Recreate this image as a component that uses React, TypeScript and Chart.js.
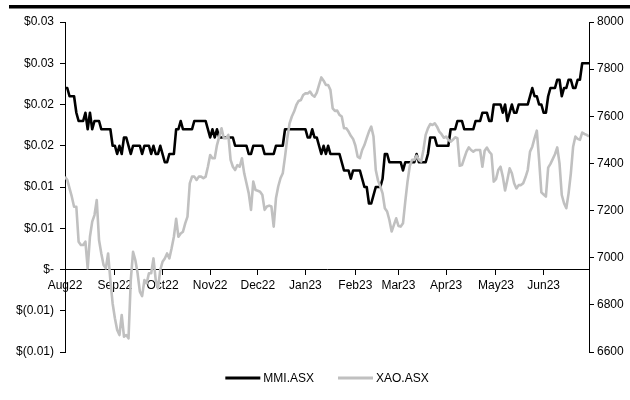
import React, { useEffect, useRef } from "react";
import { Chart, registerables } from "chart.js";

Chart.register(...registerables);

const monthLabels = ["Aug22", "Sep22", "Oct22", "Nov22", "Dec22", "Jan23", "Feb23", "Mar23", "Apr23", "May23", "Jun23"];
const monthStartIndex = [0, 22, 43, 64, 85, 106, 128, 147, 168, 190, 211];

const mmiPrice = [
  0.022, 0.022, 0.021, 0.021, 0.021, 0.019, 0.018, 0.018, 0.018, 0.019,
  0.017, 0.019, 0.017, 0.018, 0.018, 0.018, 0.017, 0.017, 0.017, 0.017,
  0.017, 0.015, 0.015, 0.014, 0.015, 0.014, 0.016, 0.016, 0.015, 0.014,
  0.015, 0.015, 0.015, 0.015, 0.014, 0.015, 0.015, 0.015, 0.014, 0.015,
  0.014, 0.014, 0.015, 0.014, 0.013, 0.013, 0.014, 0.014, 0.014, 0.017,
  0.017, 0.018, 0.017, 0.017, 0.017, 0.017, 0.017, 0.018, 0.018, 0.018,
  0.018, 0.018, 0.018, 0.017, 0.016, 0.017, 0.016, 0.017, 0.016, 0.016,
  0.016, 0.016, 0.016, 0.016, 0.016, 0.015, 0.015, 0.015, 0.015, 0.015,
  0.015, 0.014, 0.014, 0.015, 0.015, 0.015, 0.015, 0.015, 0.014, 0.014,
  0.014, 0.014, 0.014, 0.015, 0.015, 0.015, 0.015, 0.017, 0.017, 0.017,
  0.017, 0.017, 0.017, 0.017, 0.017, 0.017, 0.017, 0.016, 0.016, 0.017,
  0.016, 0.016, 0.015, 0.014, 0.015, 0.014, 0.015, 0.014, 0.014, 0.014,
  0.014, 0.014, 0.013, 0.012, 0.012, 0.012, 0.011, 0.012, 0.012, 0.012,
  0.012, 0.011, 0.010, 0.010, 0.008, 0.008, 0.009, 0.010, 0.010, 0.010,
  0.011, 0.014, 0.014, 0.013, 0.013, 0.013, 0.013, 0.013, 0.013, 0.012,
  0.013, 0.013, 0.013, 0.013, 0.013, 0.014, 0.013, 0.013, 0.013, 0.013,
  0.014, 0.016, 0.016, 0.016, 0.015, 0.015, 0.015, 0.015, 0.015, 0.015,
  0.017, 0.017, 0.017, 0.018, 0.018, 0.018, 0.017, 0.017, 0.017, 0.017,
  0.017, 0.018, 0.018, 0.018, 0.019, 0.019, 0.019, 0.018, 0.018, 0.020,
  0.020, 0.020, 0.020, 0.019, 0.020, 0.018, 0.019, 0.020, 0.019, 0.019,
  0.020, 0.020, 0.020, 0.020, 0.020, 0.021, 0.022, 0.021, 0.021, 0.020,
  0.020, 0.019, 0.019, 0.021, 0.022, 0.022, 0.022, 0.023, 0.023, 0.021,
  0.022, 0.022, 0.023, 0.023, 0.022, 0.022, 0.023, 0.023, 0.025, 0.025,
  0.025, 0.025,
];

const xaoIndex = [
  7344, 7330, 7294, 7259, 7216, 7216, 7068, 7054, 7054, 7068,
  6955, 7089, 7153, 7181, 7245, 7075, 7018, 6969, 6955, 7018,
  6905, 6806, 6743, 6693, 6672, 6757, 6665, 6672, 6658, 6905,
  7025, 6990, 6934, 6856, 6837, 6905, 6891, 6934, 6934, 6997,
  6905, 6870, 6948, 6983, 6997, 7018, 6997, 7040, 7089, 7165,
  7089, 7103, 7110, 7146, 7174, 7315, 7344, 7344, 7330, 7344,
  7344, 7337, 7344, 7386, 7436, 7422, 7422, 7478, 7514, 7549,
  7507, 7507, 7521, 7415, 7386, 7372, 7393, 7386, 7422, 7358,
  7316, 7273, 7203, 7323, 7287, 7284, 7280, 7266, 7203, 7217,
  7221, 7217, 7132, 7252, 7302, 7337, 7358, 7429, 7507, 7570,
  7599, 7620, 7648, 7665, 7669, 7690, 7697, 7697, 7705, 7690,
  7683, 7700, 7733, 7765, 7751, 7733, 7733, 7712, 7634, 7623,
  7624, 7606, 7599, 7549, 7549, 7535, 7517, 7504, 7476, 7429,
  7422, 7457, 7478, 7507, 7535, 7556, 7514, 7372, 7327, 7302,
  7273, 7210, 7196, 7160, 7111, 7139, 7167, 7135, 7132, 7146,
  7238, 7323, 7389, 7415, 7415, 7433, 7415, 7408, 7457, 7521,
  7549, 7567, 7563, 7570, 7556, 7535, 7524, 7509, 7514, 7500,
  7492, 7500, 7511, 7507, 7390, 7393, 7422, 7450, 7468, 7457,
  7450, 7457, 7457, 7457, 7386, 7454, 7467, 7450, 7439, 7323,
  7333, 7372, 7386, 7344, 7285, 7330, 7379, 7358, 7316, 7294,
  7308, 7308, 7316, 7341, 7372, 7450, 7471, 7507, 7539, 7415,
  7277, 7268, 7259, 7382, 7398, 7418, 7439, 7468, 7400, 7266,
  7231, 7210, 7273, 7358, 7471, 7514, 7504, 7500, 7531, 7525,
  7521, 7514,
];

const MMI_COLOR = "#000000";
const XAO_COLOR = "#c0c0c0";
const FONT = "Arial, 'Liberation Sans', sans-serif";

function fmtDollar(v: number): string {
  const r = Math.round(Math.abs(v) * 100 + 1e-6) / 100;
  if (Math.abs(v) < 1e-9) return "$-";
  if (v < 0) return "$(" + r.toFixed(2) + ")";
  return "$" + r.toFixed(2);
}

const topRulePlugin = {
  id: "topRule",
  afterDraw(chart: any) {
    const ctx = chart.ctx;
    ctx.save();
    ctx.fillStyle = "#000";
    ctx.fillRect(9, 5, 621, 3.5);
    ctx.restore();
  },
};

const legendPlugin = {
  id: "customLegend",
  afterDraw(chart: any) {
    const ctx = chart.ctx;
    const items = [
      { label: "MMI.ASX", color: MMI_COLOR },
      { label: "XAO.ASX", color: XAO_COLOR },
    ];
    ctx.save();
    ctx.font = "12px " + FONT;
    const lineLen = 35;
    const gap = 3;
    const itemGap = 24;
    const widths = items.map((it) => lineLen + gap + ctx.measureText(it.label).width);
    const total = widths.reduce((a, b) => a + b, 0) + itemGap * (items.length - 1);
    const area = chart.chartArea;
    let x = (area.left + area.right) / 2 - total / 2;
    const y = 378;
    items.forEach((it, i) => {
      ctx.strokeStyle = it.color;
      ctx.lineWidth = 3;
      ctx.lineCap = "butt";
      ctx.beginPath();
      ctx.moveTo(x, y);
      ctx.lineTo(x + lineLen, y);
      ctx.stroke();
      ctx.fillStyle = "#000";
      ctx.textBaseline = "middle";
      ctx.textAlign = "left";
      ctx.fillText(it.label, x + lineLen + gap, y + 0.5);
      x += widths[i] + itemGap;
    });
    ctx.restore();
  },
};

export default function App() {
  const canvasRef = useRef<HTMLCanvasElement | null>(null);

  useEffect(() => {
    const canvas = canvasRef.current;
    if (!canvas) return;
    const chart = new Chart(canvas, {
      type: "line",
      data: {
        datasets: [
          {
            label: "XAO.ASX",
            data: xaoIndex.map((v, i) => ({ x: i, y: v })),
            yAxisID: "y2",
            borderColor: XAO_COLOR,
            backgroundColor: XAO_COLOR,
            borderWidth: 2.6,
            pointRadius: 0,
            tension: 0,
            borderJoinStyle: "round",
          },
          {
            label: "MMI.ASX",
            data: mmiPrice.map((v, i) => ({ x: i, y: v })),
            yAxisID: "y",
            borderColor: MMI_COLOR,
            backgroundColor: MMI_COLOR,
            borderWidth: 2.6,
            pointRadius: 0,
            tension: 0,
            borderJoinStyle: "round",
          },
        ],
      },
      options: {
        responsive: false,
        animation: false,
        events: [],
        layout: { padding: { top: 22, bottom: 48, left: 0, right: 0 } },
        plugins: {
          legend: { display: false },
          tooltip: { enabled: false },
        },
        scales: {
          x: {
            type: "linear",
            min: 0,
            max: mmiPrice.length - 1,
            position: { y: 0 } as any,
            afterBuildTicks: (axis: any) => {
              axis.ticks = monthStartIndex.map((v) => ({ value: v }));
            },
            grid: { drawOnChartArea: false, drawTicks: true, tickLength: 5, color: "#000" },
            border: { display: true, color: "#000", width: 1 },
            ticks: {
              autoSkip: false,
              maxRotation: 0,
              minRotation: 0,
              padding: 4,
              color: "#000",
              font: { family: FONT, size: 12 },
              callback: (_v: any, idx: number) => monthLabels[idx],
            },
          },
          y: {
            type: "linear",
            position: "left",
            min: -0.01,
            max: 0.03,
            afterFit: (s: any) => {
              s.width = 65;
            },
            grid: { drawOnChartArea: false, drawTicks: true, tickLength: 5, color: "#000" },
            border: { display: true, color: "#000", width: 1 },
            ticks: {
              stepSize: 0.005,
              padding: 6,
              color: "#000",
              font: { family: FONT, size: 12 },
              callback: (v: any) => fmtDollar(Number(v)),
            },
          },
          y2: {
            type: "linear",
            position: "right",
            min: 6600,
            max: 8000,
            afterFit: (s: any) => {
              s.width = 41;
            },
            grid: { drawOnChartArea: false, drawTicks: true, tickLength: 5, color: "#000" },
            border: { display: true, color: "#000", width: 1 },
            ticks: {
              stepSize: 200,
              padding: 3,
              color: "#000",
              font: { family: FONT, size: 12 },
              callback: (v: any) => String(v),
            },
          },
        },
      },
      plugins: [topRulePlugin, legendPlugin],
    } as any);
    return () => chart.destroy();
  }, []);

  return (
    <div style={{ position: "absolute", left: 0, top: 0, width: 630, height: 400, background: "#fff" }}>
      <canvas ref={canvasRef} width={630} height={400} style={{ display: "block" }} />
    </div>
  );
}
